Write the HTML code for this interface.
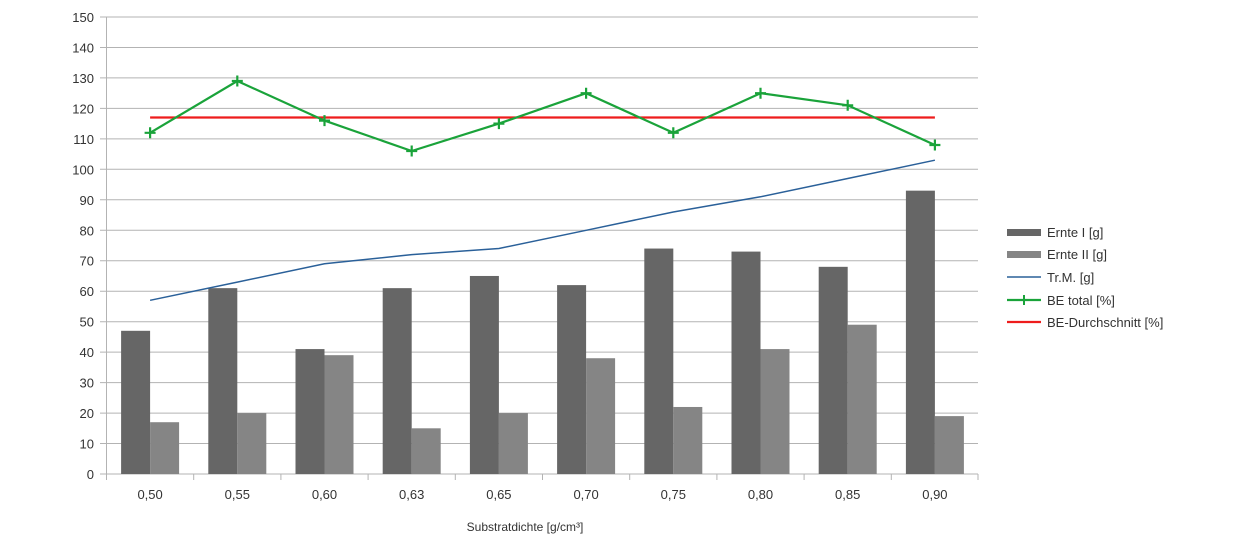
<!DOCTYPE html>
<html><head><meta charset="utf-8"><style>
html,body{margin:0;padding:0;background:#fff;}
svg{display:block;font-family:"Liberation Sans",sans-serif;}
</style></head><body>
<svg width="1237" height="548" viewBox="0 0 1237 548">
<g stroke="#b3b3b3" stroke-width="1">
<line x1="100" y1="17" x2="978" y2="17"/>
<line x1="100" y1="47.5" x2="978" y2="47.5"/>
<line x1="100" y1="77.9" x2="978" y2="77.9"/>
<line x1="100" y1="108.4" x2="978" y2="108.4"/>
<line x1="100" y1="138.9" x2="978" y2="138.9"/>
<line x1="100" y1="169.3" x2="978" y2="169.3"/>
<line x1="100" y1="199.8" x2="978" y2="199.8"/>
<line x1="100" y1="230.3" x2="978" y2="230.3"/>
<line x1="100" y1="260.7" x2="978" y2="260.7"/>
<line x1="100" y1="291.2" x2="978" y2="291.2"/>
<line x1="100" y1="321.7" x2="978" y2="321.7"/>
<line x1="100" y1="352.1" x2="978" y2="352.1"/>
<line x1="100" y1="382.6" x2="978" y2="382.6"/>
<line x1="100" y1="413.1" x2="978" y2="413.1"/>
<line x1="100" y1="443.5" x2="978" y2="443.5"/>
<line x1="100" y1="474" x2="978" y2="474"/>
<line x1="106.5" y1="17" x2="106.5" y2="480"/>
<line x1="193.7" y1="474" x2="193.7" y2="480"/><line x1="280.9" y1="474" x2="280.9" y2="480"/>
<line x1="368.1" y1="474" x2="368.1" y2="480"/><line x1="455.3" y1="474" x2="455.3" y2="480"/>
<line x1="542.5" y1="474" x2="542.5" y2="480"/><line x1="629.7" y1="474" x2="629.7" y2="480"/>
<line x1="716.9" y1="474" x2="716.9" y2="480"/><line x1="804.1" y1="474" x2="804.1" y2="480"/>
<line x1="891.3" y1="474" x2="891.3" y2="480"/><line x1="978" y1="474" x2="978" y2="480"/>
</g>
<g transform="translate(0,474) scale(1,-3.0467)">
<g fill="#666666">
<rect x="121.1" y="0" width="29" height="47"/><rect x="208.3" y="0" width="29" height="61"/>
<rect x="295.5" y="0" width="29" height="41"/><rect x="382.7" y="0" width="29" height="61"/>
<rect x="469.9" y="0" width="29" height="65"/><rect x="557.1" y="0" width="29" height="62"/>
<rect x="644.3" y="0" width="29" height="74"/><rect x="731.5" y="0" width="29" height="73"/>
<rect x="818.7" y="0" width="29" height="68"/><rect x="905.9" y="0" width="29" height="93"/>
</g>
<g fill="#858585">
<rect x="150.1" y="0" width="29" height="17"/><rect x="237.3" y="0" width="29" height="20"/>
<rect x="324.5" y="0" width="29" height="39"/><rect x="411.7" y="0" width="29" height="15"/>
<rect x="498.9" y="0" width="29" height="20"/><rect x="586.1" y="0" width="29" height="38"/>
<rect x="673.3" y="0" width="29" height="22"/><rect x="760.5" y="0" width="29" height="41"/>
<rect x="847.7" y="0" width="29" height="49"/><rect x="934.9" y="0" width="29" height="19"/>
</g>
</g>
<polyline fill="none" stroke="#2a6099" stroke-width="1.5" points="150.1,300.3 237.3,282.1 324.5,263.8 411.7,254.6 498.9,248.5 586.1,230.3 673.3,212 760.5,196.8 847.7,178.5 934.9,160.2"/>
<line x1="150.1" y1="117.5" x2="934.9" y2="117.5" stroke="#ee1c1c" stroke-width="2.2"/>
<polyline fill="none" stroke="#1aa33a" stroke-width="2.2" points="150.1,132.8 237.3,81 324.5,120.6 411.7,151 498.9,123.6 586.1,93.2 673.3,132.8 760.5,93.2 847.7,105.3 934.9,145"/>
<g stroke="#1aa33a" stroke-width="2.2">
<path d="M144.6 132.8h11M150.1 127.3v11"/><path d="M231.8 81h11M237.3 75.5v11"/>
<path d="M319 120.6h11M324.5 115.1v11"/><path d="M406.2 151h11M411.7 145.5v11"/>
<path d="M493.4 123.6h11M498.9 118.1v11"/><path d="M580.6 93.2h11M586.1 87.7v11"/>
<path d="M667.8 132.8h11M673.3 127.3v11"/><path d="M755 93.2h11M760.5 87.7v11"/>
<path d="M842.2 105.3h11M847.7 99.8v11"/><path d="M929.4 145h11M934.9 139.5v11"/>
</g>
<g font-size="13" fill="#333" text-anchor="end">
<text x="94" y="22">150</text><text x="94" y="52.5">140</text><text x="94" y="82.9">130</text>
<text x="94" y="113.4">120</text><text x="94" y="143.9">110</text><text x="94" y="174.3">100</text>
<text x="94" y="204.8">90</text><text x="94" y="235.3">80</text><text x="94" y="265.7">70</text>
<text x="94" y="296.2">60</text><text x="94" y="326.7">50</text><text x="94" y="357.1">40</text>
<text x="94" y="387.6">30</text><text x="94" y="418.1">20</text><text x="94" y="448.5">10</text>
<text x="94" y="479">0</text>
</g>
<g font-size="13" fill="#333" text-anchor="middle">
<text x="150.1" y="499">0,50</text><text x="237.3" y="499">0,55</text><text x="324.5" y="499">0,60</text>
<text x="411.7" y="499">0,63</text><text x="498.9" y="499">0,65</text><text x="586.1" y="499">0,70</text>
<text x="673.3" y="499">0,75</text><text x="760.5" y="499">0,80</text><text x="847.7" y="499">0,85</text>
<text x="934.9" y="499">0,90</text>
<text x="525" y="531" font-size="12">Substratdichte [g/cm³]</text>
</g>
<rect x="1007" y="229" width="34" height="7" fill="#666666"/>
<rect x="1007" y="251" width="34" height="7" fill="#858585"/>
<line x1="1007" y1="277" x2="1041" y2="277" stroke="#2a6099" stroke-width="1.5"/>
<line x1="1007" y1="300" x2="1041" y2="300" stroke="#1aa33a" stroke-width="2.2"/>
<path d="M1019 300h10M1024 295v10" stroke="#1aa33a" stroke-width="2"/>
<line x1="1007" y1="322" x2="1041" y2="322" stroke="#ee1c1c" stroke-width="2.2"/>
<g font-size="13" fill="#333">
<text x="1047" y="237">Ernte I [g]</text>
<text x="1047" y="259">Ernte II [g]</text>
<text x="1047" y="282">Tr.M. [g]</text>
<text x="1047" y="305">BE total [%]</text>
<text x="1047" y="327">BE-Durchschnitt [%]</text>
</g>
</svg>
</body></html>
